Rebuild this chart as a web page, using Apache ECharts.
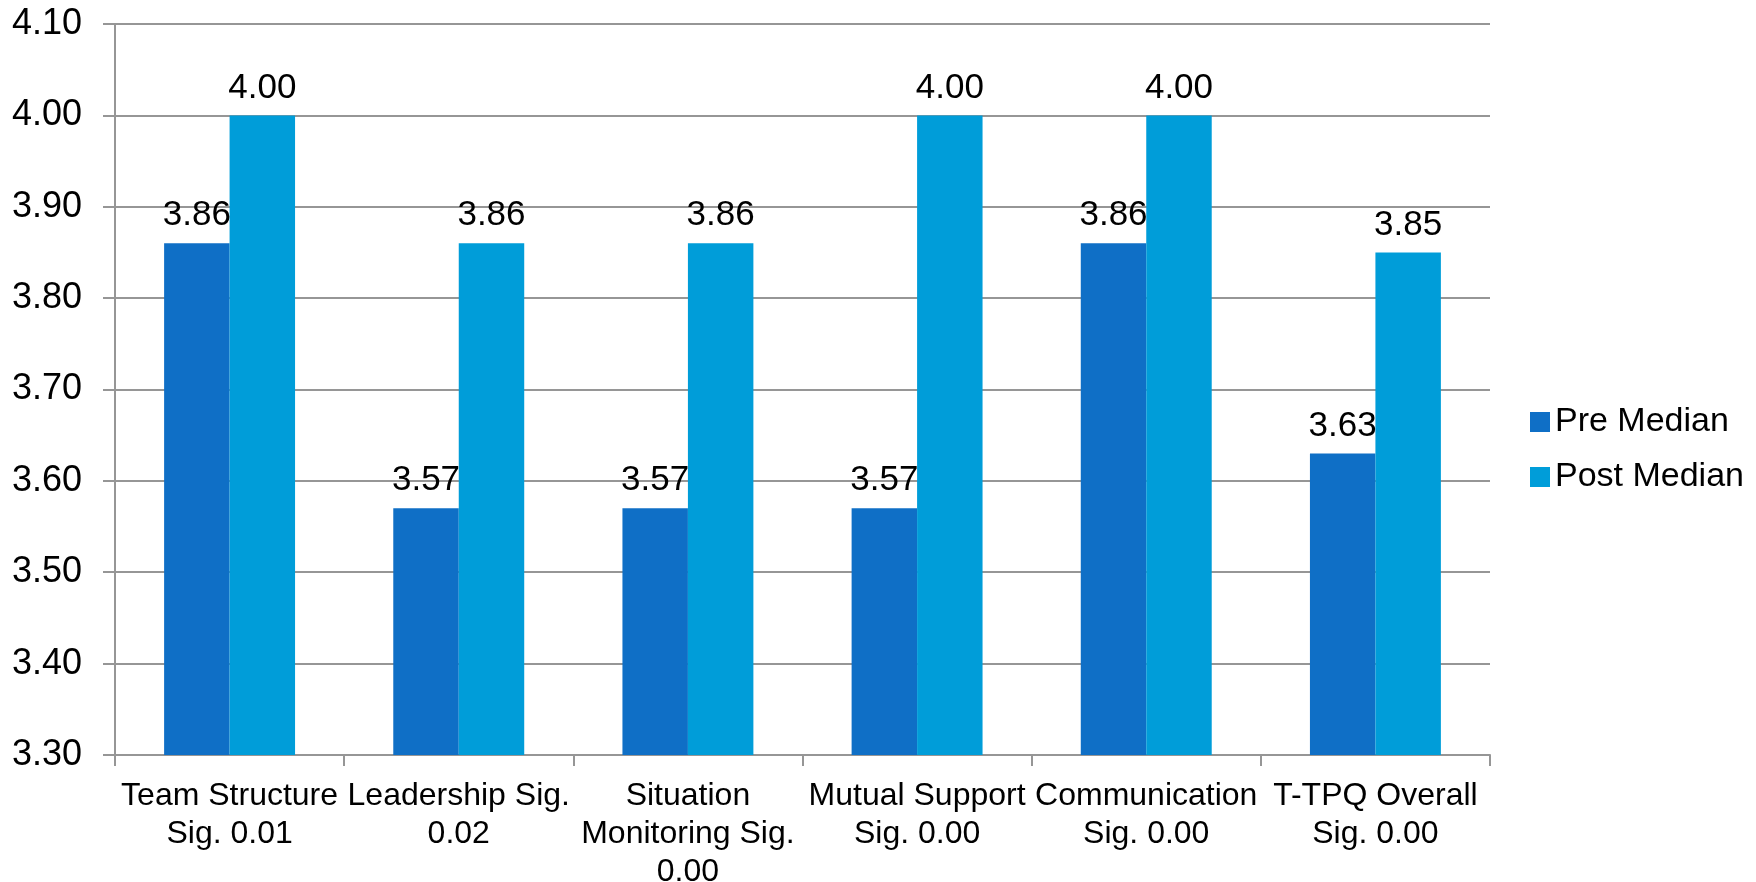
<!DOCTYPE html>
<html>
<head>
<meta charset="utf-8">
<title>Pre vs Post Median</title>
<script src="https://cdn.jsdelivr.net/npm/echarts@6/dist/echarts.min.js"></script>
<style>
  html, body { margin: 0; padding: 0; background: #ffffff; }
  #chart { width: 1756px; height: 882px; }
</style>
</head>
<body>
<div id="chart"></div>
<script>
// Survey domains with their significance values
const categories = [
  'Team Structure\nSig. 0.01',
  'Leadership Sig.\n0.02',
  'Situation\nMonitoring Sig.\n0.00',
  'Mutual Support\nSig. 0.00',
  'Communication\nSig. 0.00',
  'T-TPQ Overall\nSig. 0.00'
];
const preMedian  = [3.86, 3.57, 3.57, 3.57, 3.86, 3.63];
const postMedian = [4.00, 3.86, 3.86, 4.00, 4.00, 3.85];
const seriesNames = ['Pre Median', 'Post Median'];

const FONT = '"Liberation Sans", Arial, sans-serif';
const gridColor = '#969696';

const chart = echarts.init(document.getElementById('chart'), null, { renderer: 'canvas' });

const valueLabel = {
  show: true,
  position: 'top',
  distance: 10,
  color: '#000',
  fontFamily: FONT,
  fontSize: 35,
  formatter: p => p.value.toFixed(2)
};

chart.setOption({
  backgroundColor: '#ffffff',
  animation: false,
  grid: {
    left: 115, right: 266, top: 24, bottom: 127,
    containLabel: false,
    outerBoundsMode: 'none'
  },
  legend: {
    orient: 'vertical',
    left: 1525,
    top: 400,
    itemWidth: 20,
    itemHeight: 20,
    itemGap: 21,
    icon: 'rect',
    textStyle: { fontFamily: FONT, fontSize: 34, color: '#000', padding: [0, 0, 0, 0] },
    data: seriesNames
  },
  xAxis: {
    type: 'category',
    data: categories,
    axisLine: { show: true, lineStyle: { color: gridColor, width: 2 } },
    axisTick: { show: true, length: 11, alignWithLabel: false, lineStyle: { color: gridColor, width: 2 } },
    axisLabel: {
      interval: 0,
      margin: 22,
      color: '#000',
      fontFamily: FONT,
      fontSize: 32,
      lineHeight: 38
    }
  },
  yAxis: {
    type: 'value',
    min: 3.3,
    max: 4.1,
    interval: 0.1,
    axisLine: { show: true, lineStyle: { color: gridColor, width: 2 } },
    axisTick: { show: true, length: 12, lineStyle: { color: gridColor, width: 2 } },
    splitLine: { show: true, lineStyle: { color: gridColor, width: 2 } },
    axisLabel: {
      margin: 33,
      color: '#000',
      fontFamily: FONT,
      fontSize: 36,
      formatter: v => v.toFixed(2)
    }
  },
  series: [
    {
      name: seriesNames[0],
      type: 'bar',
      data: preMedian,
      barGap: '0%',
      barCategoryGap: '42.86%',
      itemStyle: { color: '#0F6FC6' },
      label: valueLabel
    },
    {
      name: seriesNames[1],
      type: 'bar',
      data: postMedian,
      barGap: '0%',
      barCategoryGap: '42.86%',
      itemStyle: { color: '#009DD9' },
      label: valueLabel
    }
  ]
});
</script>
</body>
</html>
